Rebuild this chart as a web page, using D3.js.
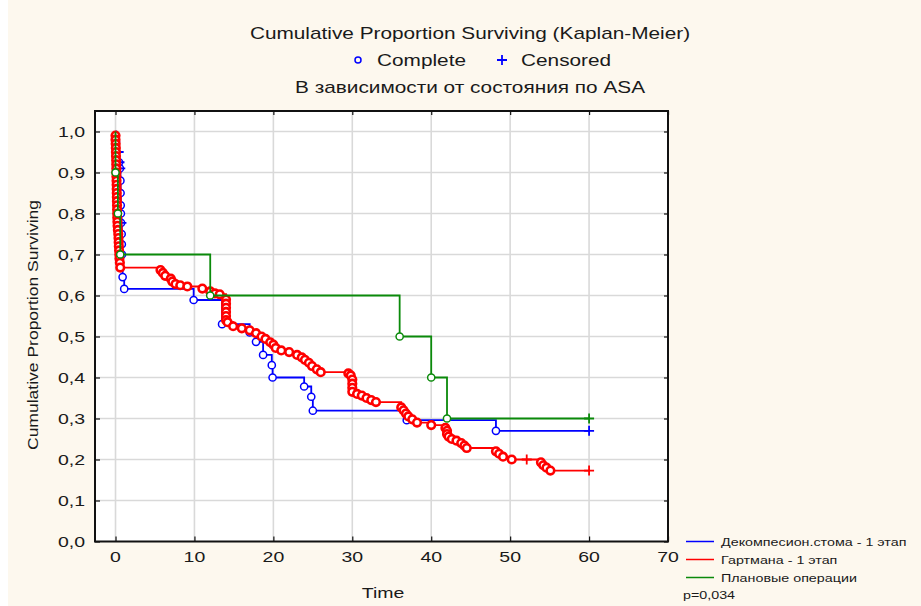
<!DOCTYPE html>
<html>
<head>
<meta charset="utf-8">
<script src="https://cdn.jsdelivr.net/npm/d3@7"></script>
<style>
  body { margin: 0; background: #fff; }
  svg { display: block; font-family: "Liberation Sans", Arial, sans-serif; }
</style>
</head>
<body>
<div id="chart"></div>
<script>
// series: time, cumulative proportion, status (1 = complete, 0 = censored)
const groupNames = ['Декомпесион.стома - 1 этап', 'Гартмана - 1 этап', 'Плановые операции'];
const groupColors = ['#0000ff', '#ff0000', '#0a8a0a'];

const blueTime = [0.05, 0.1, 0.4, 0.45, 0.5, 0.55, 0.6, 0.62, 0.64, 0.66, 0.68, 0.7, 0.75, 0.78, 0.8, 0.82, 0.9, 1.1,
  9.9, 13.5, 17, 17.8, 18.7, 19.8, 19.9, 23.9, 24.8, 25, 36.9, 48.2, 60];
const blueSurv = [0.975, 0.95, 0.95, 0.925, 0.925, 0.91, 0.91, 0.88, 0.85, 0.82, 0.8, 0.777, 0.777, 0.75, 0.725, 0.7, 0.645, 0.616,
  0.589, 0.53, 0.51, 0.487, 0.455, 0.43, 0.4, 0.378, 0.353, 0.319, 0.296, 0.27, 0.27];
const blueStatus = [1, 1, 0, 1, 0, 1, 0, 1, 1, 1, 1, 1, 0, 1, 1, 1, 1, 1,
  1, 1, 1, 1, 1, 1, 1, 1, 1, 1, 1, 1, 0];

const redTime = [0, 0, 0.02, 0.04, 0.05, 0.06, 0.08, 0.09, 0.1, 0.11, 0.12, 0.13, 0.14, 0.15, 0.16, 0.17, 0.18, 0.19, 0.2,
  0.21, 0.22, 0.24, 0.26, 0.3, 0.35, 0.38, 0.4, 0.42, 0.45, 0.48, 0.5, 0.55, 0.6,
  5.7, 6, 6.3, 7, 7.2, 7.6, 8.2, 9.1, 11, 12, 12.6, 13.2,
  14, 14, 14, 14, 14, 14, 14.2, 14.9, 16, 17, 17.8, 18.5, 19, 19.6, 20, 20.3, 21, 22, 23, 23.6, 24, 24.5, 24.9, 25.5, 26,
  29.5, 29.8, 30, 30, 30, 30, 30.6, 31.2, 31.8, 32.4, 33,
  36.2, 36.5, 36.8, 37.1, 37.6, 38.2, 40,
  41.8, 42, 42, 42.2, 42.6, 43.2, 43.8, 44.2, 44.5,
  48.2, 48.6, 49.1, 50.2, 52.1, 53.9, 54.2, 54.6, 55.1, 60];
const redSurv = [0.99, 0.98, 0.97, 0.96, 0.95, 0.94, 0.93, 0.92, 0.91, 0.9, 0.89, 0.88, 0.87, 0.86, 0.85, 0.84, 0.83, 0.82, 0.81,
  0.8, 0.79, 0.78, 0.77, 0.76, 0.75, 0.74, 0.73, 0.72, 0.71, 0.7, 0.69, 0.68, 0.668,
  0.662, 0.655, 0.648, 0.641, 0.634, 0.628, 0.625, 0.622, 0.617, 0.61, 0.605, 0.603,
  0.59, 0.58, 0.57, 0.56, 0.55, 0.54, 0.535, 0.525, 0.52, 0.515, 0.508, 0.5, 0.494, 0.486, 0.48, 0.472, 0.466, 0.462, 0.455, 0.449, 0.443, 0.436, 0.428, 0.42, 0.413,
  0.41, 0.405, 0.395, 0.385, 0.375, 0.365, 0.36, 0.356, 0.35, 0.345, 0.34,
  0.327, 0.32, 0.312, 0.305, 0.298, 0.29, 0.284,
  0.277, 0.27, 0.262, 0.256, 0.25, 0.246, 0.24, 0.234, 0.228,
  0.22, 0.214, 0.207, 0.2, 0.2, 0.193, 0.186, 0.18, 0.173, 0.173];
const redStatus = redTime.map((t, i) => (i === redTime.length - 1 || t === 52.1) ? 0 : 1);

const greenTime = [0, 0.3, 0.6, 12, 36, 40, 42, 60];
const greenSurv = [0.9, 0.8, 0.7, 0.6, 0.5, 0.4, 0.3, 0.3];
const greenStatus = [1, 1, 1, 1, 1, 1, 1, 0];

const xTicks = [0, 10, 20, 30, 40, 50, 60, 70];
const yTicks = [0, 0.1, 0.2, 0.3, 0.4, 0.5, 0.6, 0.7, 0.8, 0.9, 1.0];

const width = 921, height = 606;
const pLeft = 95, pRight = 668, pTop = 111, pBottom = 541.5;
const stretch = 1.3;   // the original rendering is wide

const svg = d3.select('#chart').append('svg')
  .attr('width', width)
  .attr('height', height);

svg.append('rect').attr('x', 8).attr('y', 0).attr('width', width - 8).attr('height', height).attr('fill', '#fdf8ee');

const x = d3.scaleLinear().domain([-2.6, 70]).range([pLeft, pRight]);
const y = d3.scaleLinear().domain([0, 1.05]).range([pBottom, pTop]);

function wideText(str, px, py, size, anchor) {
  return svg.append('text')
    .attr('transform', `translate(${px},${py}) scale(${stretch},1)`)
    .attr('text-anchor', anchor || 'start')
    .attr('fill', '#1a1a1a')
    .style('font-size', size + 'px')
    .text(str);
}

// plot area
svg.append('rect')
  .attr('x', pLeft).attr('y', pTop)
  .attr('width', pRight - pLeft).attr('height', pBottom - pTop)
  .attr('fill', '#fff');

// grid
svg.append('g').selectAll('line')
  .data(xTicks.filter(d => d < 70))
  .enter().append('line')
  .attr('x1', d => x(d)).attr('x2', d => x(d))
  .attr('y1', pTop).attr('y2', pBottom)
  .attr('stroke', '#d9d9d9').attr('stroke-width', 1.6);

svg.append('g').selectAll('line')
  .data(yTicks.filter(d => d > 0))
  .enter().append('line')
  .attr('x1', pLeft).attr('x2', pRight)
  .attr('y1', d => y(d)).attr('y2', d => y(d))
  .attr('stroke', '#d9d9d9').attr('stroke-width', 1.6);

// axes, ticks inward on all sides
const axisStyle = g => {
  g.select('.domain').remove();
  g.selectAll('.tick line').attr('stroke', '#111').attr('stroke-width', 1.2);
  g.selectAll('.tick text').remove();
};
svg.append('g').attr('transform', `translate(0,${pBottom})`)
  .call(d3.axisTop(x).tickValues(xTicks).tickSize(5)).call(axisStyle);
svg.append('g').attr('transform', `translate(0,${pTop})`)
  .call(d3.axisBottom(x).tickValues(xTicks).tickSize(4)).call(axisStyle);
svg.append('g').attr('transform', `translate(${pLeft},0)`)
  .call(d3.axisRight(y).tickValues(yTicks).tickSize(5)).call(axisStyle);
svg.append('g').attr('transform', `translate(${pRight},0)`)
  .call(d3.axisLeft(y).tickValues(yTicks).tickSize(4)).call(axisStyle);

// tick labels
xTicks.forEach(d => wideText(String(d), x(d), 562, 15, 'middle'));
yTicks.forEach(d => wideText(d3.format('.1f')(d).replace('.', ','), 85, y(d) + 5.5, 15, 'end'));

// survival curves
const line = d3.line().x(d => x(d[0])).y(d => y(d[1])).curve(d3.curveStepAfter);

const series = [
  { time: blueTime, surv: blueSurv, status: blueStatus },
  { time: redTime, surv: redSurv, status: redStatus },
  { time: greenTime, surv: greenSurv, status: greenStatus }
];

const plot = svg.append('g');
series.forEach((s, k) => {
  const pts = [[0, 1]].concat(s.time.map((t, i) => [t, s.surv[i], s.status[i]]));
  const color = groupColors[k];

  plot.append('path')
    .attr('d', line(pts))
    .attr('fill', 'none')
    .attr('stroke', color)
    .attr('stroke-width', 1.8);

  plot.selectAll(null)
    .data(pts.filter(p => p[2] === 1))
    .enter().append('circle')
    .attr('cx', d => x(d[0]))
    .attr('cy', d => y(d[1]))
    .attr('r', k === 1 ? 3.8 : 3.6)
    .attr('fill', '#fff')
    .attr('stroke', color)
    .attr('stroke-width', k === 1 ? 2.6 : 1.5);

  const cens = pts.filter(p => p[2] === 0);
  plot.selectAll(null)
    .data(cens)
    .enter().append('path')
    .attr('d', d => `M${x(d[0]) - 5},${y(d[1])}h10M${x(d[0])},${y(d[1]) - 5}v10`)
    .attr('stroke', color)
    .attr('stroke-width', 1.8);
});

// frame
svg.append('rect')
  .attr('x', pLeft).attr('y', pTop)
  .attr('width', pRight - pLeft).attr('height', pBottom - pTop)
  .attr('fill', 'none')
  .attr('stroke', '#111')
  .attr('stroke-width', 2);

// titles
wideText('Cumulative Proportion Surviving (Kaplan-Meier)', 470, 39, 16, 'middle');
svg.append('circle').attr('cx', 358).attr('cy', 60).attr('r', 3).attr('fill', 'none')
  .attr('stroke', '#0000ff').attr('stroke-width', 1.5);
wideText('Complete', 377, 66, 16);
svg.append('path').attr('d', 'M497,60h10M502,55v10').attr('stroke', '#0000ff').attr('stroke-width', 1.8);
wideText('Censored', 521, 66, 16);
wideText('В зависимости от состояния по ASA', 470, 93, 16, 'middle');

wideText('Time', 383, 598, 15, 'middle');

svg.append('text')
  .attr('transform', 'translate(38,325) rotate(-90)')
  .attr('text-anchor', 'middle')
  .attr('fill', '#1a1a1a')
  .attr('textLength', 250)
  .attr('lengthAdjust', 'spacingAndGlyphs')
  .style('font-size', '14px')
  .text('Cumulative Proportion Surviving');

// legend
const legend = svg.append('g');
groupNames.forEach((name, i) => {
  const ly = 541.5 + i * 18;
  legend.append('line')
    .attr('x1', 686).attr('x2', 714)
    .attr('y1', ly).attr('y2', ly)
    .attr('stroke', groupColors[i]).attr('stroke-width', 1.5);
  wideText(name, 721, ly + 4, 11);
});
wideText('p=0,034', 683, 599, 11);
</script>
</body>
</html>
